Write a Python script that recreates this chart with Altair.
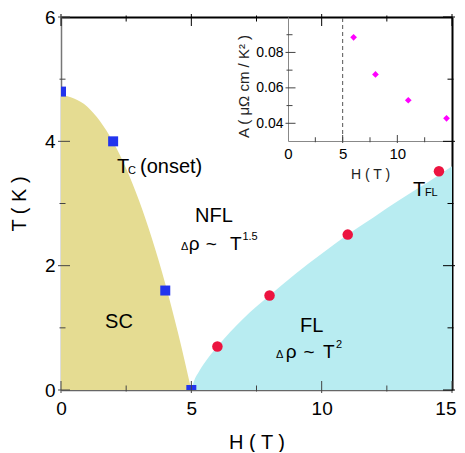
import altair as alt
import pandas as pd

FONT = "Liberation Sans"

# ---- main phase diagram data ----
tc_H = [0, 2, 4, 5]                      # Tc (onset), blue squares
tc_T = [4.8, 4.0, 1.6, 0.0]
tfl_H = [6, 8, 11, 14.5]                 # T_FL, red circles
tfl_T = [0.70, 1.52, 2.50, 3.52]
sc_H = [0, 1, 2, 3, 3.5, 4, 4.5, 5]      # SC region boundary
sc_T = [4.75, 4.56, 3.99, 3.04, 2.42, 1.71, 0.90, 0.0]
fl_H = [5, 5.1, 5.3, 5.6, 6, 7, 8, 9, 10, 11, 12, 13, 14, 15]   # FL region boundary
fl_T = [0, 0.14, 0.30, 0.49, 0.70, 1.15, 1.52, 1.87, 2.19, 2.50, 2.78, 3.06, 3.32, 3.60]

# ---- inset data ----
a_H = [6, 8, 11, 14.5]
a_A = [0.0885, 0.0676, 0.0530, 0.0428]
hc_line = [5]

# ---- ticks ----
x_major = [0, 5, 10, 15]
x_minor = [2.5, 7.5, 12.5]
y_major = [0, 2, 4, 6]
y_minor = [1, 3, 5]
x_dom = [0, 15]
y_dom = [0, 6]
ia_dom = [0.03, 0.10]
ia_major = [0.04, 0.06, 0.08]
ia_minor = [0.05, 0.07, 0.09]
ix_labels = [0, 5, 10]

# ---- labels (data coordinates) ----
big_txt = ["T", "(onset)", "NFL", "SC", "FL", "T"]
big_H = [2.15, 3.03, 5.14, 1.69, 9.17, 13.50]
big_T = [3.49, 3.49, 2.70, 1.00, 0.93, 3.12]
mid_txt = ["ρ", "~", "T", "ρ", "~", "T"]
mid_H = [4.90, 5.55, 6.48, 8.62, 9.30, 10.05]
mid_T = [2.25, 2.25, 2.25, 0.515, 0.515, 0.515]
small_txt = ["C", "FL", "Δ", "Δ", "1.5", "2"]
small_H = [2.57, 13.96, 4.60, 8.25, 6.96, 10.55]
small_T = [3.47, 3.12, 2.25, 0.515, 2.41, 0.675]

W, H = 391, 373
IX0, IX1 = 227, 391     # inset x range within plot
IY_BOT = 124            # inset bottom within plot
TICK_C = "#444"

xs = alt.Scale(domain=x_dom, nice=False, zero=False)
ys = alt.Scale(domain=y_dom, nice=False, zero=False)

last_x = f"datum.value == {x_dom[1]}"
x_axis = alt.Axis(values=x_major, title="H ( T )", ticks=False, tickSize=0, labelFlush=False,
                  labelAlign={"condition": {"test": last_x, "value": "right"}, "value": "center"},
                  labelOffset={"condition": {"test": last_x, "value": 4}, "value": 0},
                  domainColor="#666", domainWidth=1.5,
                  labelFontSize=19, labelPadding=9, titleFontSize=20,
                  titleFontWeight="normal", titleY=58, titleBaseline="alphabetic",
                  grid=False)
y_axis = alt.Axis(values=y_major, title="T ( K )", ticks=False, tickSize=0, labelFlush=False,
                  domainColor="#777", domainWidth=1.5,
                  labelFontSize=19, labelPadding=6, titleFontSize=20,
                  titleFontWeight="normal", titleX=-36, titleBaseline="alphabetic",
                  grid=False)


def enc(df, xa=x_axis, ya=y_axis, xsc=xs, ysc=ys, xf="H", yf="T"):
    return dict(x=alt.X(f"{xf}:Q", scale=xsc, axis=xa), y=alt.Y(f"{yf}:Q", scale=ysc, axis=ya))


sc_df = pd.DataFrame({"H": sc_H, "T": sc_T})
fl_df = pd.DataFrame({"H": fl_H, "T": fl_T})
tc_df = pd.DataFrame({"H": tc_H, "T": tc_T})
tfl_df = pd.DataFrame({"H": tfl_H, "T": tfl_T})

layers = [
    alt.Chart(sc_df).mark_area(color="#e5dc92", interpolate="monotone", clip=True).encode(**enc(sc_df)),
    alt.Chart(fl_df).mark_area(color="#b8ecf1", interpolate="monotone", clip=True).encode(**enc(fl_df)),
    alt.Chart(tc_df).mark_square(size=100, color="#2234ee", opacity=1, clip=True).encode(**enc(tc_df)),
    alt.Chart(tfl_df).mark_circle(size=110, color="#ec1440", opacity=1, clip=True).encode(**enc(tfl_df)),
]


def text_layer(txt, hh, tt, size):
    df = pd.DataFrame({"H": hh, "T": tt, "label": txt})
    return alt.Chart(df).mark_text(align="left", baseline="alphabetic", fontSize=size,
                                   font=FONT, color="black").encode(text="label:N", **enc(df))


layers += [text_layer(big_txt, big_H, big_T, 20),
           text_layer(mid_txt, mid_H, mid_T, 19),
           text_layer(small_txt, small_H, small_T, 11)]


def tick_layer(xv, yv, orient, size, dx, dy, color, **kw):
    df = pd.DataFrame({"H": xv, "T": yv})
    return alt.Chart(df).mark_tick(orient=orient, size=size, thickness=1, color=color, opacity=1,
                                   xOffset=dx, yOffset=dy).encode(**enc(df, **kw))


n = len
layers += [
    tick_layer(x_major, [y_dom[0]] * n(x_major), "vertical", 12, 0, -3, TICK_C),
    tick_layer(x_minor, [y_dom[0]] * n(x_minor), "vertical", 6, 0, -1.5, TICK_C),
    tick_layer(x_major, [y_dom[1]] * n(x_major), "vertical", 12, 0, 3, "black"),
    tick_layer(x_minor, [y_dom[1]] * n(x_minor), "vertical", 6, 0, 1.5, "black"),
    tick_layer([x_dom[0]] * n(y_major), y_major, "horizontal", 12, 3, 0, TICK_C),
    tick_layer([x_dom[0]] * n(y_minor), y_minor, "horizontal", 6, 1.5, 0, TICK_C),
    tick_layer([x_dom[1]] * n(y_major), y_major, "horizontal", 12, -3, 0, "black"),
    tick_layer([x_dom[1]] * n(y_minor), y_minor, "horizontal", 6, -1.5, 0, "black"),
]
main = alt.layer(*layers)

# frame: top and right border lines
frame = alt.Chart(tc_df).mark_point(opacity=0).encode(
    x=alt.X("H:Q", scale=alt.Scale(domain=x_dom, nice=False, zero=False),
            axis=alt.Axis(orient="top", values=x_major, labels=False, ticks=False, title=None,
                          domainColor="black", domainWidth=2, grid=False)),
    y=alt.Y("T:Q", scale=alt.Scale(domain=y_dom, nice=False, zero=False),
            axis=alt.Axis(orient="right", values=y_major, labels=False, ticks=False, title=None,
                          domainColor="black", domainWidth=2, grid=False)))

# inset
ixs = alt.Scale(domain=x_dom, range=[IX0, IX1], nice=False, zero=False)
iys = alt.Scale(domain=ia_dom, range=[IY_BOT, 0], nice=False, zero=False)

ix_axis = alt.Axis(orient="bottom", offset=-(H - IY_BOT), values=ix_labels, title="H ( T )",
                   ticks=False, tickSize=0, labelFlush=False, domainColor="#888", domainWidth=1,
                   labelFontSize=15, labelPadding=5, titleFontSize=14, titleColor="#222",
                   titleFontWeight="normal", titleY=37, titleBaseline="alphabetic", grid=False)
iy_axis = alt.Axis(orient="left", offset=-IX0, values=ia_major, title="A (  μΩ cm / K² )",
                   format=".2f", ticks=False, tickSize=0, labelFlush=False, domainColor="#888", domainWidth=1,
                   labelFontSize=14, labelPadding=5, titleFontSize=15, titleColor="#222",
                   titleFontWeight="normal", titleX=-40, titleY=69, titleBaseline="alphabetic", grid=False)


def ienc(df, yf="A"):
    return enc(df, xa=ix_axis, ya=iy_axis, xsc=ixs, ysc=iys, yf=yf)


a_df = pd.DataFrame({"H": a_H, "A": a_A})
line_df = pd.DataFrame({"H": hc_line, "A": [ia_dom[0]], "A2": [ia_dom[1]]})


def itick(xv, yv, orient, size, dx, dy):
    df = pd.DataFrame({"H": xv, "A": yv})
    return alt.Chart(df).mark_tick(orient=orient, size=size, thickness=1, color=TICK_C, opacity=1,
                                   xOffset=dx, yOffset=dy).encode(**ienc(df))


inset = alt.layer(
    alt.Chart(line_df).mark_rule(color="#555", strokeDash=[4, 3], strokeWidth=1).encode(
        y2="A2:Q", **ienc(line_df)),
    alt.Chart(a_df).mark_point(shape="diamond", filled=True, size=45, color="#ff00ff", opacity=1).encode(
        **ienc(a_df)),
    itick(x_major[1:3], [ia_dom[0]] * 2, "vertical", 8, 0, -2),
    itick(x_minor, [ia_dom[0]] * n(x_minor), "vertical", 5, 0, -1.25),
    itick([x_dom[0]] * n(ia_major), ia_major, "horizontal", 10, 2.5, 0),
    itick([x_dom[0]] * n(ia_minor), ia_minor, "horizontal", 6, 1.5, 0),
)

chart = alt.layer(main, frame, inset).resolve_scale(x="independent", y="independent").resolve_axis(
    x="independent", y="independent").properties(
    width=W, height=H,
    autosize=alt.AutoSizeParams(type="none"),
    padding={"left": 53, "top": 9, "right": 5, "bottom": 62},
).configure_view(stroke=None).configure_axis(
    labelFont=FONT, titleFont=FONT, labelColor="black", titleColor="black")

chart.save("out.html", embed_options={"renderer": "svg", "actions": False})
